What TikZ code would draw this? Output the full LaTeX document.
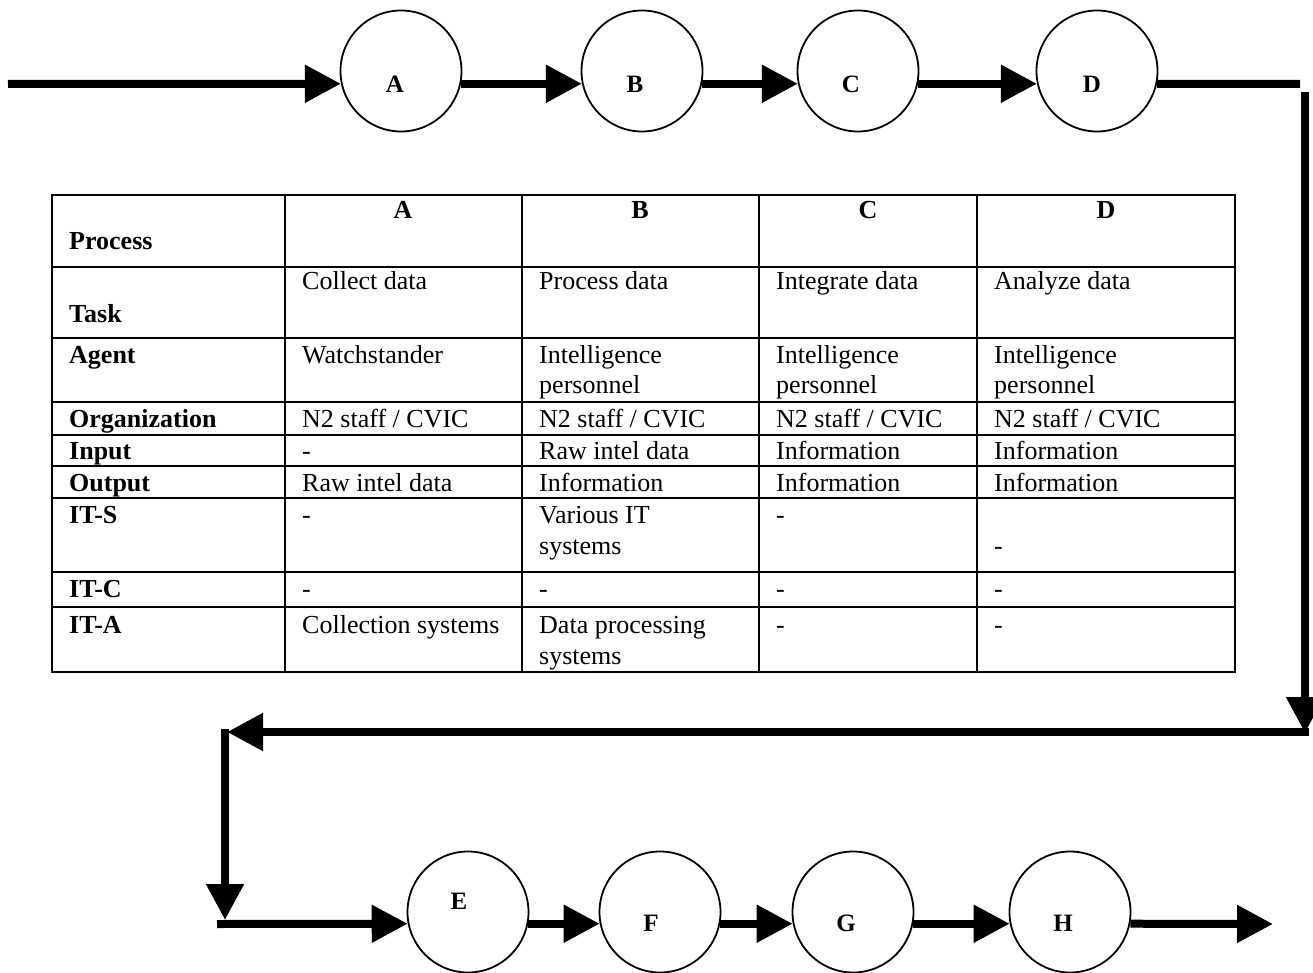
\documentclass[tikz,border=0pt]{standalone}
\usepackage{fontspec}
\setmainfont{Liberation Serif}
\usetikzlibrary{arrows.meta,calc}
\begin{document}
\begin{tikzpicture}[x=1pt,y=-1pt,
  proc/.style={draw,circle,line width=1.8pt,minimum size=121pt,inner sep=0pt},
  flow/.style={line width=8pt,-{Triangle[length=36pt,width=36pt]}},
  bar/.style={line width=8pt},
  lett/.style={font=\fontsize{25}{25}\selectfont\bfseries,inner sep=0pt},
  cell/.style={anchor=base west,inner sep=0pt,font=\fontsize{26}{31}\selectfont},
  rowlab/.style={anchor=base west,inner sep=0pt,font=\fontsize{26}{31}\selectfont\bfseries},
  head/.style={anchor=base,inner sep=0pt,font=\fontsize{26}{31}\selectfont\bfseries},
  tabline/.style={line width=1.5pt}]
\useasboundingbox (0,0) rectangle (1313,973);

% ---------- top row of processes ----------
\node[proc] (A) at (401,71) {};
\node[proc] (B) at (642,71) {};
\node[proc] (C) at (858,71) {};
\node[proc] (D) at (1097,71) {};
\node[lett] (lA) at (395,84) {A};
\node[lett] (lB) at (635,84) {B};
\node[lett] (lC) at (851,84) {C};
\node[lett] (lD) at (1092,84) {D};

\coordinate (start) at (8,84);
\coordinate (tr) at (1300,84);
\coordinate (rtop) at (1305,92);
\coordinate (rbot) at (1305,733);
\coordinate (rr) at (1309,732);
\coordinate (ll) at (227,732);
\coordinate (ltop) at (225,729);
\coordinate (lbot) at (225,920);
\coordinate (bstart) at (217,924);
\coordinate (endpt) at (1273,924);

\draw[flow] (start) -- (A.192.3);
\draw[flow] (A.-12.3) -- (B.192.3);
\draw[flow] (B.-12.3) -- (C.192.3);
\draw[flow] (C.-12.3) -- (D.192.3);
\draw[bar] (D.-12.3) -- (tr);
\draw[flow] (rtop) -- (rbot);
\draw[flow] (rr) -- (ll);
\draw[flow] (ltop) -- (lbot);

% ---------- bottom row of processes ----------
\node[proc] (E) at (468,912) {};
\node[proc] (F) at (660,912) {};
\node[proc] (G) at (853,912) {};
\node[proc] (H) at (1070,912) {};
\node[lett] (lE) at (459,901) {E};
\node[lett] (lF) at (651,923) {F};
\node[lett] (lG) at (846,923) {G};
\node[lett] (lH) at (1063,923) {H};

\draw[flow] (bstart) -- (E.191.5);
\draw[flow] (E.-11.5) -- (F.191.5);
\draw[flow] (F.-11.5) -- (G.191.5);
\draw[flow] (G.-11.5) -- (H.191.5);
\draw[flow] (H.-11.5) -- (endpt);

% ---------- table ----------
\draw[tabline] (52,195) rectangle (1235,672);
\foreach \yy in {267,338,402,435,466,498,572,607}
  \draw[tabline] (52,\yy) -- (1235,\yy);
\foreach \xx in {285,522,759,977}
  \draw[tabline] (\xx,195) -- (\xx,672);

% header
\node[rowlab] (hP) at (69,250) {Process};
\node[head] (hA) at (403,219) {A};
\node[head] (hB) at (640,219) {B};
\node[head] (hC) at (868,219) {C};
\node[head] (hD) at (1106,219) {D};

% Task
\node[rowlab] (tT) at (69,323) {Task};
\node[cell] (tA) at (302,290) {Collect data};
\node[cell] (tB) at (539,290) {Process data};
\node[cell] (tC) at (776,290) {Integrate data};
\node[cell] (tD) at (994,290) {Analyze data};

% Agent
\node[rowlab] (aL) at (69,363) {Agent};
\node[cell] (aA) at (302,363) {Watchstander};
\node[cell] (aB1) at (539,363) {Intelligence};
\node[cell] (aB2) at (539,393) {personnel};
\node[cell] (aC1) at (776,363) {Intelligence};
\node[cell] (aC2) at (776,393) {personnel};
\node[cell] (aD1) at (994,363) {Intelligence};
\node[cell] (aD2) at (994,393) {personnel};

% Organization
\node[rowlab] (oL) at (69,427) {Organization};
\node[cell] (oA) at (302,427) {N2 staff / CVIC};
\node[cell] (oB) at (539,427) {N2 staff / CVIC};
\node[cell] (oC) at (776,427) {N2 staff / CVIC};
\node[cell] (oD) at (994,427) {N2 staff / CVIC};

% Input
\node[rowlab] (iL) at (69,459) {Input};
\node[cell] (iA) at (302,459) {-};
\node[cell] (iB) at (539,459) {Raw intel data};
\node[cell] (iC) at (776,459) {Information};
\node[cell] (iD) at (994,459) {Information};

% Output
\node[rowlab] (uL) at (69,491) {Output};
\node[cell] (uA) at (302,491) {Raw intel data};
\node[cell] (uB) at (539,491) {Information};
\node[cell] (uC) at (776,491) {Information};
\node[cell] (uD) at (994,491) {Information};

% IT-S
\node[rowlab] (sL) at (69,523) {IT-S};
\node[cell] (sA) at (302,523) {-};
\node[cell] (sB1) at (539,523) {Various IT};
\node[cell] (sB2) at (539,554) {systems};
\node[cell] (sC) at (776,523) {-};
\node[cell] (sD) at (994,554) {-};

% IT-C
\node[rowlab] (cL) at (69,597) {IT-C};
\node[cell] (cA) at (302,597) {-};
\node[cell] (cB) at (539,597) {-};
\node[cell] (cC) at (776,597) {-};
\node[cell] (cD) at (994,597) {-};

% IT-A
\node[rowlab] (xL) at (69,633) {IT-A};
\node[cell] (xA) at (302,633) {Collection systems};
\node[cell] (xB1) at (539,633) {Data processing};
\node[cell] (xB2) at (539,664) {systems};
\node[cell] (xC) at (776,633) {-};
\node[cell] (xD) at (994,633) {-};
\end{tikzpicture}
\end{document}
